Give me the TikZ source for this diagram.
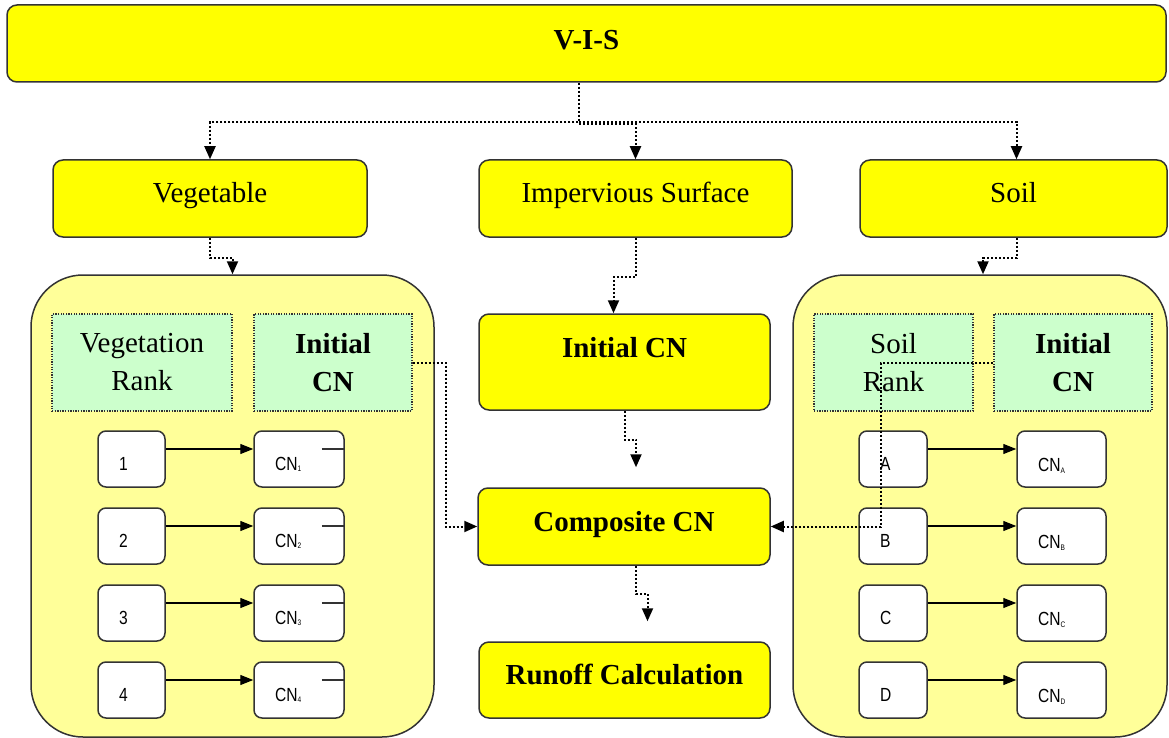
\documentclass[tikz,border=0pt]{standalone}
\usepackage{fontspec}
\setmainfont{Liberation Serif}
\newfontfamily\narrowsans[FakeStretch=0.82]{Liberation Sans}
\usetikzlibrary{arrows.meta,calc}

\definecolor{boxyellow}{RGB}{255,255,0}
\definecolor{panelyellow}{RGB}{255,255,153}
\definecolor{rankgreen}{RGB}{204,255,204}
\definecolor{edgegray}{RGB}{51,51,51}

% curve number with a small index
\newcommand{\cnsub}[1]{CN\raisebox{-1.5pt}{\fontsize{8}{8}\selectfont #1}}

\tikzset{
  mainbox/.style={draw=edgegray, line width=1.5pt, fill=boxyellow, rounded corners=10pt,
    inner sep=0pt, align=center, text height=20pt, text depth=11pt,
    font=\fontsize{29}{37}\selectfont},
  panel/.style={draw=edgegray, line width=1.5pt, fill=panelyellow, rounded corners=52pt},
  rankbox/.style={draw=edgegray, line width=1.3pt, dash pattern=on 1.3pt off 1.3pt,
    fill=rankgreen, inner sep=0pt, align=center, font=\fontsize{29}{38}\selectfont},
  cell/.style={draw=edgegray, line width=1.5pt, fill=white, rounded corners=8pt,
    inner xsep=21pt, inner ysep=0pt, minimum height=56pt, text height=22pt, text depth=0pt,
    align=left, font=\narrowsans\fontsize{19}{22}\selectfont},
  numcell/.style={cell, text width=25pt},
  cncell/.style={cell, text width=47pt},
  flow/.style={line width=2pt, dash pattern=on 2pt off 2pt, -{Triangle[length=13pt,width=11pt]}},
  link/.style={line width=1.3pt, -{Triangle[length=13pt,width=10pt]}},
  tick/.style={line width=1.2pt, edgegray},
}

\begin{document}
\begin{tikzpicture}[x=1pt,y=1pt,yscale=-1]
\useasboundingbox (0,0) rectangle (1169,738);

% top level
\node[mainbox, minimum width=1159pt, minimum height=77pt, text depth=7pt] (vis) at (586.5,43.5) {\textbf{V-I-S}};

% three groups
\node[mainbox, minimum width=314pt, minimum height=77pt] (veg) at (210,198.5) {Vegetable};
\node[mainbox, minimum width=313pt, minimum height=77pt] (imp) at (635.5,198.5) {Impervious Surface};
\node[mainbox, minimum width=307pt, minimum height=77pt] (soil) at (1013.5,198.5) {Soil};

% side panels
\node[panel, minimum width=403pt, minimum height=462pt] (vpanel) at (232.5,506) {};
\node[panel, minimum width=374pt, minimum height=462pt] (spanel) at (980,506) {};

% vegetation table
\node[rankbox, minimum width=180pt, minimum height=97pt] (vrank) at (142,362.5) {Vegetation\\Rank};
\node[rankbox, minimum width=158pt, minimum height=97pt] (vinit) at (333,362.5) {\textbf{Initial}\\\textbf{CN}};
\node[numcell] (vr1) at (131.5,459) {1};
\node[numcell] (vr2) at (131.5,536) {2};
\node[numcell] (vr3) at (131.5,613) {3};
\node[numcell] (vr4) at (131.5,690) {4};
\node[cncell, text width=48pt] (vc1) at (299,459) {\cnsub{1}};
\node[cncell, text width=48pt] (vc2) at (299,536) {\cnsub{2}};
\node[cncell, text width=48pt] (vc3) at (299,613) {\cnsub{3}};
\node[cncell, text width=48pt] (vc4) at (299,690) {\cnsub{4}};

% soil table
\node[rankbox, minimum width=159pt, minimum height=97pt] (srank) at (893.5,362.5) {Soil\\Rank};
\node[rankbox, minimum width=158pt, minimum height=97pt] (sinit) at (1073,362.5) {\textbf{Initial}\\\textbf{CN}};
\node[numcell, text width=26pt] (sr1) at (893,459) {A};
\node[numcell, text width=26pt] (sr2) at (893,536) {B};
\node[numcell, text width=26pt] (sr3) at (893,613) {C};
\node[numcell, text width=26pt] (sr4) at (893,690) {D};
\node[cncell, text height=25pt] (sc1) at (1061.5,459) {\cnsub{A}};
\node[cncell, text height=25pt] (sc2) at (1061.5,536) {\cnsub{B}};
\node[cncell, text height=25pt] (sc3) at (1061.5,613) {\cnsub{C}};
\node[cncell, text height=25pt] (sc4) at (1061.5,690) {\cnsub{D}};

% middle column
\node[mainbox, minimum width=291pt, minimum height=96pt, text depth=29pt] (initcn) at (624.5,362) {\textbf{Initial CN}};
\node[mainbox, minimum width=292pt, minimum height=77pt] (comp) at (624,526.5) {\textbf{Composite CN}};
\node[mainbox, minimum width=291pt, minimum height=76pt] (runoff) at (624.5,680) {\textbf{Runoff Calculation}};

% rank -> CN links
\draw[link] ($(vr1.east)+(0,-10)$) -- ($(vc1.west)+(0,-10)$);
\draw[link] ($(vr2.east)+(0,-10)$) -- ($(vc2.west)+(0,-10)$);
\draw[link] ($(vr3.east)+(0,-10)$) -- ($(vc3.west)+(0,-10)$);
\draw[link] ($(vr4.east)+(0,-10)$) -- ($(vc4.west)+(0,-10)$);
\draw[link] ($(sr1.east)+(0,-10)$) -- ($(sc1.west)+(0,-10)$);
\draw[link] ($(sr2.east)+(0,-10)$) -- ($(sc2.west)+(0,-10)$);
\draw[link] ($(sr3.east)+(0,-10)$) -- ($(sc3.west)+(0,-10)$);
\draw[link] ($(sr4.east)+(0,-10)$) -- ($(sc4.west)+(0,-10)$);
\draw[tick] ($(vc1.east)+(-23,-10)$) -- ($(vc1.east)+(0,-10)$);
\draw[tick] ($(vc2.east)+(-23,-10)$) -- ($(vc2.east)+(0,-10)$);
\draw[tick] ($(vc3.east)+(-23,-10)$) -- ($(vc3.east)+(0,-10)$);
\draw[tick] ($(vc4.east)+(-23,-10)$) -- ($(vc4.east)+(0,-10)$);

% dotted flow
\coordinate (hub) at (579,122);
\draw[flow] (vis.south -| hub) -- (hub) -| (veg.north);
\draw[flow] (hub) -| ($(soil.north)+(3,0)$);
\draw[flow] ($(hub)+(0,2)$) -| (imp.north);
\draw[flow] (veg.south) -- ++(0,20) -| (vpanel.north);
\draw[flow] ($(soil.south)+(3,0)$) -- ++(0,20) -| ($(spanel.north)+(3,0)$);
\draw[flow] (imp.south) -- ++(0,39) -| ($(initcn.north)+(-11,0)$);
\draw[flow] (initcn.south) -- ++(0,29) -| ($(comp.north)+(12,-20)$);
\draw[flow] ($(comp.south)+(12,0)$) -- ++(0,28) -| ($(runoff.north)+(23,-20)$);
\draw[flow] (vinit.east) -- ++(33,0) |- (comp.west);
\draw[flow] (sinit.west) -- ++(-112,0) |- (comp.east);
\end{tikzpicture}
\end{document}
